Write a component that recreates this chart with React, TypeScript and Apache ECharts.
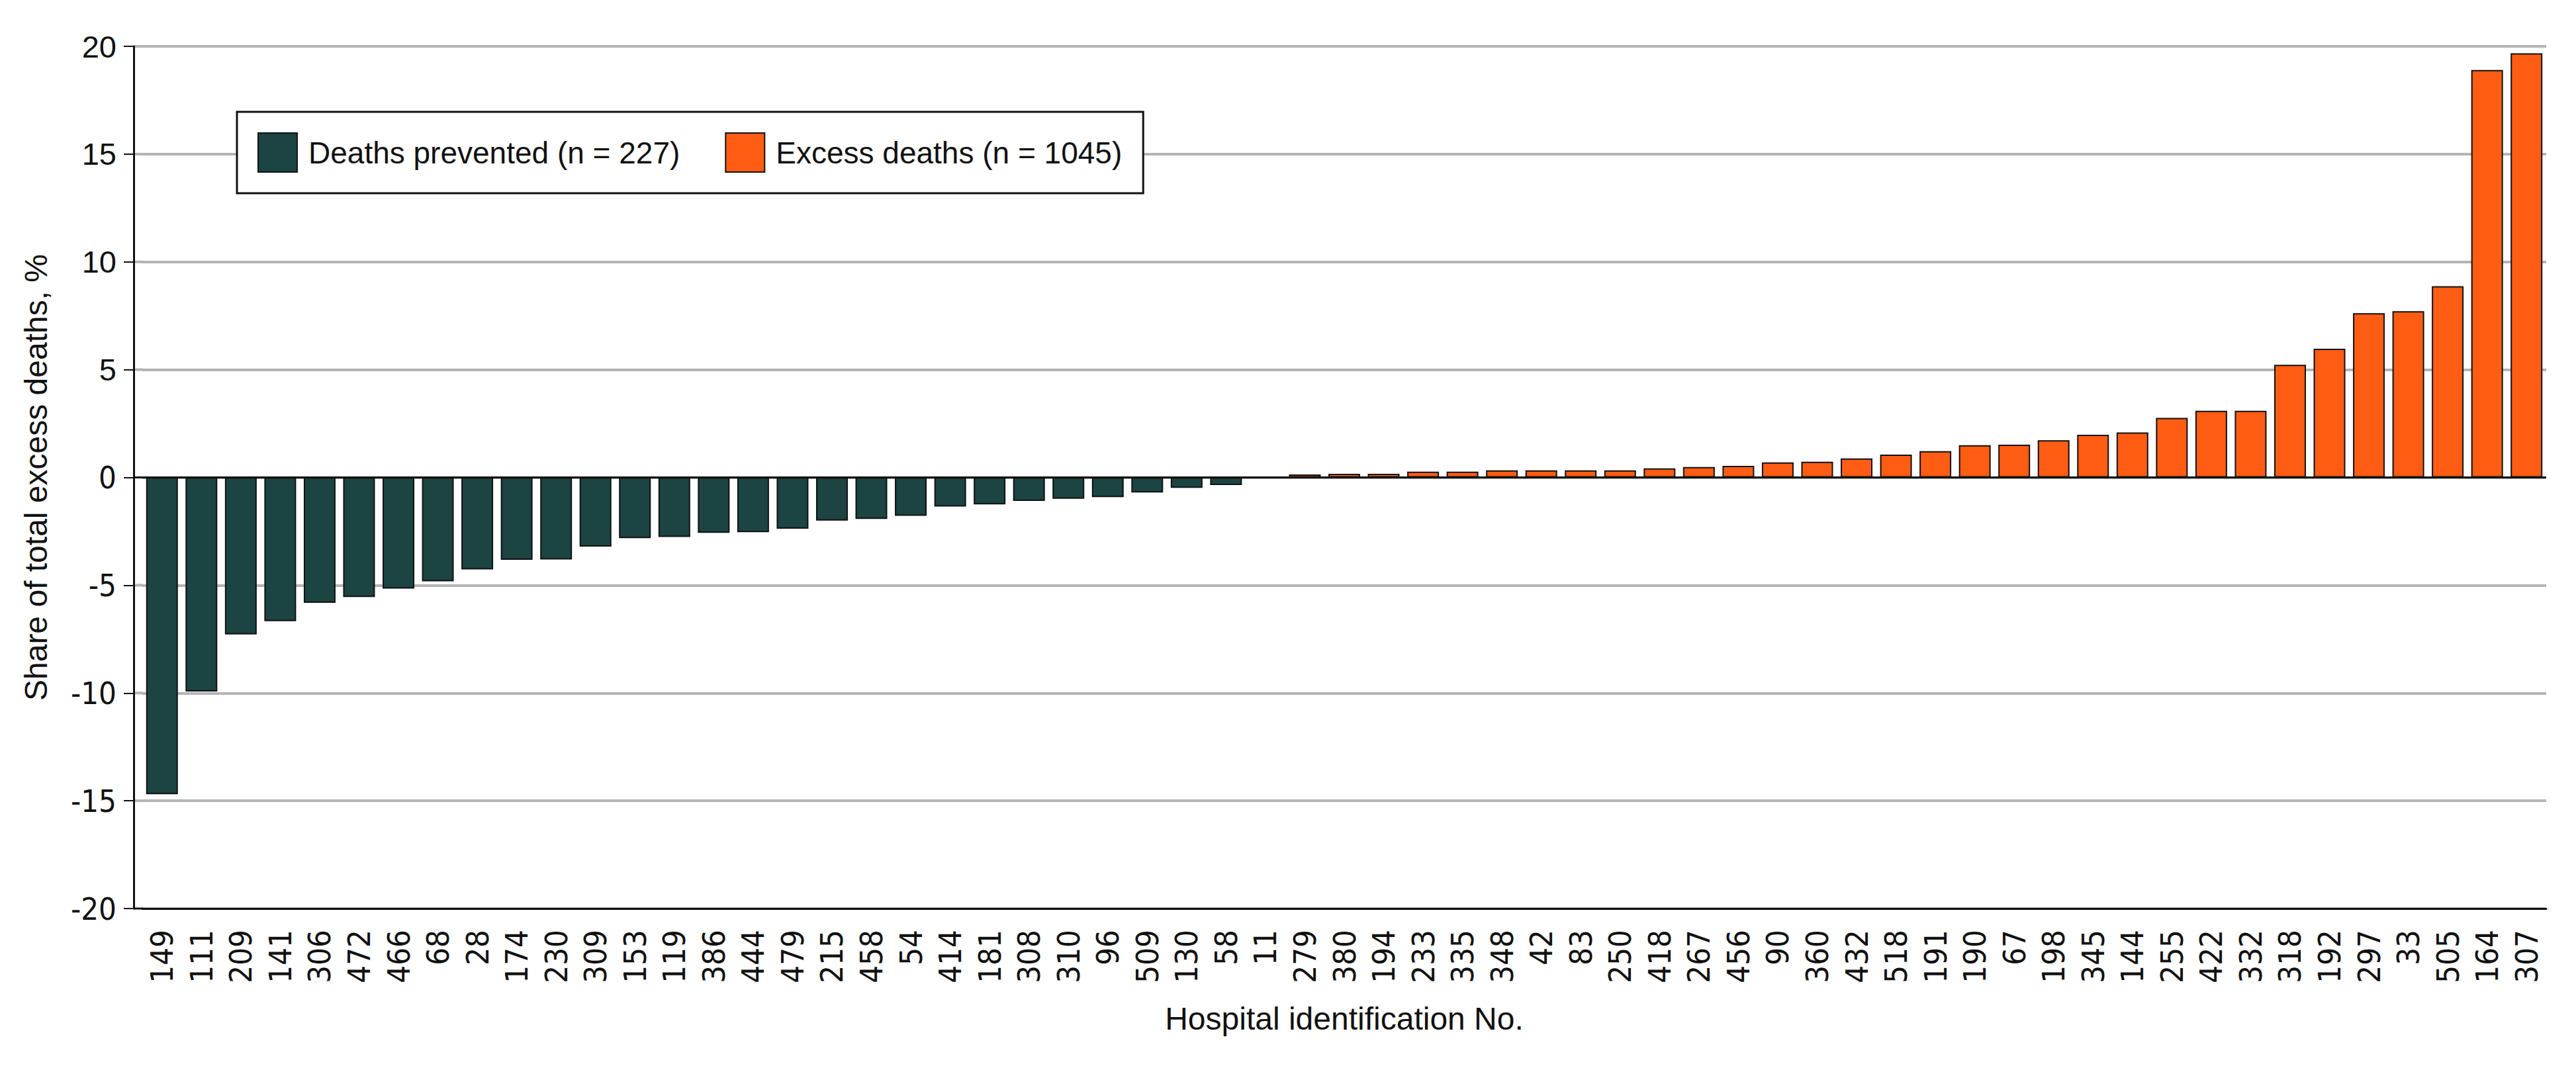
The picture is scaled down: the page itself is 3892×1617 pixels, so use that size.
import React, { useEffect, useRef } from "react";
import * as echarts from "echarts";

// Hospitals ordered by their share of total excess deaths (%)
const hospitalIds = [
  "149", "111", "209", "141", "306", "472", "466", "68", "28", "174",
  "230", "309", "153", "119", "386", "444", "479", "215", "458", "54",
  "414", "181", "308", "310", "96", "509", "130", "58", "11", "279",
  "380", "194", "233", "335", "348", "42", "83", "250", "418", "267",
  "456", "90", "360", "432", "518", "191", "190", "67", "198", "345",
  "144", "255", "422", "332", "318", "192", "297", "33", "505", "164",
  "307",
];

const shareValues = [
  -14.7, -9.93, -7.28, -6.67, -5.82, -5.55, -5.16, -4.82, -4.27, -3.82,
  -3.81, -3.21, -2.82, -2.76, -2.57, -2.54, -2.38, -2.0, -1.93, -1.78,
  -1.35, -1.25, -1.09, -0.99, -0.91, -0.7, -0.48, -0.35, 0, 0.14,
  0.17, 0.17, 0.27, 0.27, 0.33, 0.33, 0.33, 0.33, 0.42, 0.48,
  0.54, 0.7, 0.73, 0.88, 1.06, 1.22, 1.5, 1.52, 1.73, 1.98,
  2.09, 2.76, 3.09, 3.09, 5.23, 5.97, 7.62, 7.71, 8.87, 18.9,
  19.68,
];

const seriesNames = ["Deaths prevented (n = 227)", "Excess deaths (n = 1045)"];
const seriesColors = ["#1b4442", "#ff5c14"];

const yTicks = [-20, -15, -10, -5, 0, 5, 10, 15, 20];

const SANS = '"Liberation Sans", Arial, sans-serif';
const DEJAVU = '"DejaVu Sans Condensed", "DejaVu Sans", sans-serif';
const INK = "#111111";
const GRID_GRAY = "#b4b4b4";

const GRID_LEFT = 215;
const Y_AXIS_OFFSET = 13;

export default function App() {
  const ref = useRef<HTMLDivElement>(null);

  useEffect(() => {
    if (!ref.current) return;
    const chart = echarts.init(ref.current, null, { renderer: "svg" });

    const prevented = shareValues.map((v) => (v < 0 ? v : null));
    const excess = shareValues.map((v) => (v >= 0 ? v : null));

    const barStyle = (color: string) => ({
      color,
      borderColor: INK,
      borderWidth: 2,
    });

    chart.setOption({
      animation: false,
      backgroundColor: "#ffffff",
      grid: { left: GRID_LEFT, right: 45, top: 70, bottom: 244 },
      legend: {
        left: 358,
        top: 169,
        orient: "horizontal",
        padding: [31, 32, 31, 31],
        borderColor: INK,
        borderWidth: 3,
        backgroundColor: "#ffffff",
        itemWidth: 59,
        itemHeight: 59,
        itemGap: 68,
        icon: "rect",
        itemStyle: { borderColor: INK, borderWidth: 2 },
        textStyle: {
          fontFamily: SANS,
          fontSize: 46,
          color: INK,
          padding: [0, 0, 0, 12],
        },
        data: seriesNames,
      },
      xAxis: {
        type: "category",
        data: hospitalIds,
        name: "Hospital identification No.",
        nameLocation: "middle",
        nameGap: 142,
        nameTextStyle: { fontFamily: SANS, fontSize: 48, color: INK },
        axisLine: { onZero: false, lineStyle: { color: INK, width: 3 } },
        axisTick: {
          alignWithLabel: true,
          length: 16,
          lineStyle: { color: INK, width: 2 },
        },
        axisLabel: {
          interval: 0,
          rotate: 90,
          margin: 32,
          fontFamily: DEJAVU,
          fontSize: 47,
          color: INK,
        },
      },
      yAxis: {
        type: "value",
        min: yTicks[0],
        max: yTicks[yTicks.length - 1],
        interval: yTicks[1] - yTicks[0],
        offset: Y_AXIS_OFFSET,
        name: "Share of total excess deaths, %",
        nameLocation: "middle",
        nameGap: 124,
        nameTextStyle: { fontFamily: SANS, fontSize: 48, color: INK },
        axisLine: { show: true, lineStyle: { color: INK, width: 3 } },
        axisTick: { show: true, length: 15, lineStyle: { color: INK, width: 2 } },
        splitLine: { show: true, lineStyle: { color: GRID_GRAY, width: 4 } },
        axisLabel: {
          margin: 26,
          formatter: (v: number) => (v > 0 ? `{p|${v}}` : `{n|${v}}`),
          rich: {
            p: { fontFamily: SANS, fontSize: 47, color: INK },
            n: { fontFamily: DEJAVU, fontSize: 47, color: INK },
          },
        },
      },
      series: [
        {
          name: seriesNames[0],
          type: "bar",
          data: prevented,
          barWidth: 48,
          barGap: "-100%",
          itemStyle: barStyle(seriesColors[0]),
          markLine: {
            silent: true,
            symbol: ["none", "none"],
            label: { show: false },
            lineStyle: { color: INK, width: 3, type: "solid" },
            data: [{ yAxis: 0 }],
          },
        },
        {
          name: seriesNames[1],
          type: "bar",
          data: excess,
          barWidth: 48,
          barGap: "-100%",
          itemStyle: barStyle(seriesColors[1]),
        },
      ],
    });

    // The y axis sits slightly left of the first category band; carry the
    // grid lines, the zero line and the bottom axis line over to it.
    const axisX = GRID_LEFT - Y_AXIS_OFFSET;
    const bridges = yTicks.map((v) => {
      const y = chart.convertToPixel({ yAxisIndex: 0 }, v) as number;
      const isAxis = v === yTicks[0];
      const isZero = v === 0;
      return {
        type: "line",
        silent: true,
        z: isAxis || isZero ? 10 : 0,
        shape: { x1: axisX, y1: y, x2: GRID_LEFT + 1, y2: y },
        style: {
          stroke: isAxis || isZero ? INK : GRID_GRAY,
          lineWidth: isAxis || isZero ? 3 : 4,
        },
      };
    });
    chart.setOption({ graphic: bridges });

    return () => chart.dispose();
  }, []);

  return (
    <div
      ref={ref}
      style={{
        position: "fixed",
        left: 0,
        top: 0,
        width: 3892,
        height: 1617,
        background: "#ffffff",
      }}
    />
  );
}
